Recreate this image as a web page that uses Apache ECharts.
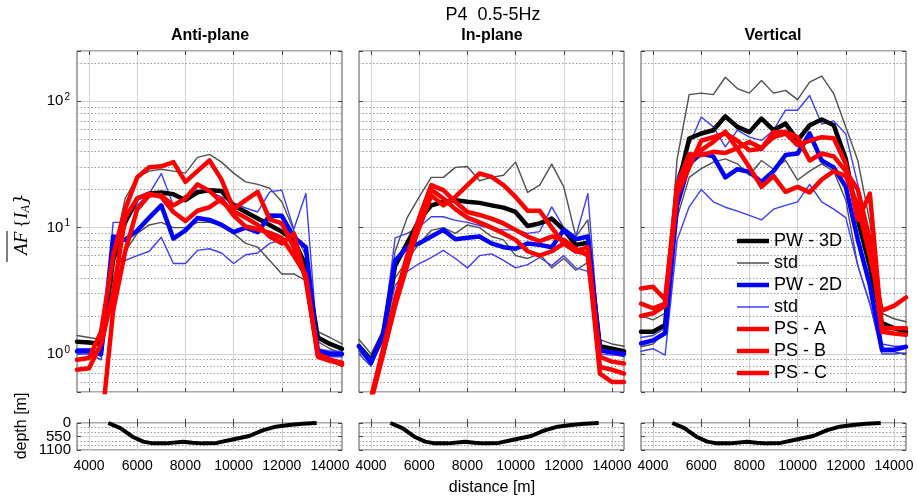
<!DOCTYPE html>
<html><head><meta charset="utf-8">
<script src="https://cdn.jsdelivr.net/npm/echarts@6/dist/echarts.min.js"></script>
<style>html,body{margin:0;padding:0;background:#fff}#c{width:917px;height:500px}</style>
</head><body><div id="c"></div>
<script>
// ---------- data ----------
const stations = [3500,4000,4500,5000,5500,6000,6500,7000,7500,8000,8500,9000,9500,10000,10500,11000,11500,12000,12500,13000,13500,14000,14500];

// Anti-plane
const ap3D   = [1.25,1.23,1.2,5.5,11,17,18.6,19,18.4,16.5,19,19.8,19.5,15,13.3,11.8,10.5,9.3,8,5,1.35,1.2,1.1];
const ap3Dhi = [1.4,1.35,1.3,6,17,25,28,29,28,27,36,38,33,27,23,22,20.5,16,9.5,6,1.5,1.35,1.2];
const ap3Dlo = [1.1,1.1,1.1,4,6.5,9,10.5,11,10,10,11,11,10.5,9,7.5,7,5.5,4.3,4.3,3.8,1.25,1.1,1.0];
const ap2D   = [1.05,1.05,1.0,8.5,8,9.5,12,15,8.2,9.5,11.9,11.5,10.5,9.2,10,9.2,12.5,12.4,8.4,7,1.05,1.0,1.0];
const ap2Dhi = [1.1,1.1,0.95,11,11,15,18.6,26.8,15,18,19.8,19.2,17.5,15.7,14.3,13.3,19.2,19.8,9.7,18.6,1.1,1.05,1.05];
const ap2Dlo = [1.0,1.0,0.9,3.5,5.5,6,6.5,8.4,5.2,5.2,6.6,6.8,6.3,5.2,6.1,6.3,7.5,8,6,4,0.98,0.95,0.95];
const apA    = [0.9,0.93,1.5,6,14,25,30,30.6,33,23,28,34,24,14,16.5,19.2,11.6,10.8,7,4,0.97,0.9,0.85];
const apB    = [0.75,0.77,1.2,3,12,17,18.6,17.5,13.3,11.3,13.6,14.5,16.8,12.5,10.2,9.7,9.1,8.3,6,4.2,0.95,0.88,0.85];
const apC    = [0.2,0.2,0.25,2.2,6.5,14,18,18,15,17,22,19.5,16,13.5,12,10.5,8.5,7.5,9,3.8,1.0,0.9,0.82];

// In-plane
const ip3D   = [1.15,0.9,1.4,5,7.5,11.5,15,16,16.5,16,15.7,15,14.4,13.3,10.3,10.8,11.8,9.6,7.3,7.6,1.15,1.1,1.05];
const ip3Dhi = [1.3,1.0,1.55,6.5,12,17.5,25,25,30,30.5,23.5,25,26,33,19,21.7,31.8,21,8.5,11.5,1.3,1.2,1.15];
const ip3Dlo = [1.05,0.85,1.25,4,5.5,7.5,9.5,10,9,10.5,10,8.5,8,6,5.7,6.2,4.8,5.7,4.6,5.3,1.05,1.0,0.95];
const ip2D   = [1.15,0.85,1.45,5.5,7,7.5,8.5,9.6,8.1,8.3,8.5,7.5,7.0,6.8,7.5,7.3,7.0,9.6,8.1,8.5,1.07,1.03,1.0];
const ip2Dhi = [1.2,0.9,1.5,8.3,9,10.1,12.2,12.2,11.4,11,10.4,9.8,9.6,9.6,9,9.3,14.6,10,8.5,18.6,1.1,1.07,1.03];
const ip2Dlo = [1.0,0.8,1.3,3.5,4.5,5.2,5.8,6.6,5.7,4.8,6.0,6.2,5.5,4.8,5.1,5.8,5.0,6.0,4.8,4.5,1.0,0.98,0.97];
const ipA    = [0.3,0.45,1.1,2.7,6,12,21.7,19.8,16,13.3,12.6,11.8,10.8,9.6,8.5,7.8,8.5,8,6.8,6,0.95,0.87,0.84];
const ipB    = [0.3,0.45,1.0,2.5,5.5,10,18,15,17.5,21.7,26.8,25.2,21.7,17.5,13.6,13.6,10,7.5,6.5,7,0.79,0.75,0.7];
const ipC    = [0.3,0.42,1.0,2.4,5,11,20,17,14,12,11,10,9,8,6.5,6,6.5,7.5,6.5,6.2,0.7,0.6,0.6];

// Vertical
const v3D    = [1.5,1.5,1.7,20,50.7,55.6,59,76,62.7,57,73,59,66.6,49,64.6,71.7,64.6,35,11.5,4.9,1.76,1.6,1.5];
const v3Dhi  = [2.0,1.86,2.1,35,113,116,113,155,126,116,146,116,122,103,142,158,115,62.7,34,11,2.1,1.9,1.8];
const v3Dlo  = [1.14,1.2,1.5,12,25,29.3,33,35,32,26,34,29,34,23.8,28,32,28,16.5,5,2.5,1.04,1.04,1.0];
const v2D    = [1.21,1.28,1.46,15,32,38.6,36.6,25,29,27.6,23,28,37.5,38.6,55.6,34,30,21,8,3.5,1.08,1.08,1.14];
const v2Dhi  = [1.35,1.4,1.6,25,45,75,62.7,43.5,59,52,49,59,85,85,111,66,70,55,22,8,1.2,1.15,1.15];
const v2Dlo  = [1.05,1.1,0.98,8,14.6,20,16,14.5,13.5,12.5,11.5,14,15,16,22,16,14,12,5,2.5,1.0,1.0,1.02];
const vA     = [3.3,3.4,2.7,20,34,41,47.7,57.5,42,30,21,25.6,19.2,21,19,24,28,25.6,15,6,2.2,2.4,2.8];
const vB     = [2.5,2.3,2.5,22,38,37.5,39.8,39,42.6,47.7,42.6,52,55.6,45,48.7,52,51,32,11.5,18.6,1.6,1.6,1.6];
const vC     = [2.0,2.1,2.4,18,30,48.7,52,55.6,48.7,41,42,57,57,52,34,38.6,36.6,28,20,8,1.5,1.45,1.42];

// Basin depth profile
const depthX = [4800,5300,5800,6250,6650,7200,7900,8300,8700,9300,9950,10650,11200,11750,12300,12850,13450];
const depthY = [0,210,560,760,830,830,760,800,830,810,670,530,300,150,80,30,0];

// Axis ticks
const xTickValues = [4000,6000,8000,10000,12000,14000];
const depthEndTicks = [0,1100];
const depthMidTicks = [550];
const minorTicks = [0.6,0.7,0.8,0.9,2,3,4,5,6,7,8,9,20,30,40,50,60,70,80,90,200];
const panelTitles = ['Anti-plane','In-plane','Vertical'];
const legendGroups = [['PW - 3D'],['std'],['PW - 2D'],['std '],['PS - A','PS - B','PS - C']];

// ---------- chart ----------
const FONT = '"Liberation Sans", Arial, Helvetica, sans-serif';
const lefts = [77, 359, 641];
const W = 265;
const panels = [
  {hi3:ap3Dhi, lo3:ap3Dlo, hi2:ap2Dhi, lo2:ap2Dlo, m3:ap3D, m2:ap2D, A:apA, B:apB, C:apC},
  {hi3:ip3Dhi, lo3:ip3Dlo, hi2:ip2Dhi, lo2:ip2Dlo, m3:ip3D, m2:ip2D, A:ipA, B:ipB, C:ipC},
  {hi3:v3Dhi,  lo3:v3Dlo,  hi2:v2Dhi,  lo2:v2Dlo,  m3:v3D,  m2:v2D,  A:vA,  B:vB,  C:vC}
];

const grids = [], xAxes = [], yAxes = [], series = [];
const TICK = {show:true, inside:true, length:4, lineStyle:{color:'#444', width:1}};
const SPLIT = {show:true, lineStyle:{color:'#d4d4d4', width:1}};
const DLABEL = {color:'#000', fontSize:15, fontFamily:FONT, margin:6, showMinLabel:true, showMaxLabel:true, formatter: v => String(v)};

for (let g = 0; g < 6; g++) {
  const top = g < 3;
  const l = lefts[g % 3];
  grids.push({left:l, top: top ? 51 : 423, width:W, height: top ? 341 : 27,
    show:true, borderColor:'#555', borderWidth:1, backgroundColor:'rgba(0,0,0,0)'});
  xAxes.push({type:'value', gridIndex:g, position:'bottom', min:3500, max:14500,
    axisLine:{show:false},
    axisTick:Object.assign({customValues:xTickValues}, TICK),
    axisLabel:{show:!top, customValues:xTickValues, color:'#000', fontSize:14, fontFamily:FONT, margin:9,
      formatter: v => String(v)},
    splitLine:SPLIT});
  xAxes.push({type:'value', gridIndex:g, position:'top', min:3500, max:14500,
    axisLine:{show:false},
    axisTick:Object.assign({customValues:xTickValues}, TICK),
    axisLabel:{show:false, customValues:xTickValues}, splitLine:{show:false}});
  if (top) {
    const fmt = v => {
      const e = Math.log10(v), r = Math.round(e);
      if (Math.abs(e - r) > 1e-6) return '';
      return '{b|10}{s|' + r + '}';
    };
    const yl = pos => ({type:'log', logBase:10, gridIndex:g, position:pos, min:0.5, max:250,
      axisLine:{show:false}, axisTick:TICK,
      axisLabel:{show: pos === 'left' && g === 0, formatter:fmt, margin:7,
        rich:{b:{fontSize:15, fontFamily:FONT, color:'#000'}, s:{fontSize:10, fontFamily:FONT, color:'#000', verticalAlign:'top', padding:[0,0,8,1]}}},
      splitLine: pos === 'left' ? SPLIT : {show:false}});
    yAxes.push(yl('left'), yl('right'));
  } else {
    const yd = pos => ({type:'value', gridIndex:g, position:pos, min:0, max:1100, interval:550, inverse:true,
      axisLine:{show:false}, axisTick:TICK,
      axisLabel:Object.assign({show: pos === 'left' && g === 3, customValues:depthEndTicks}, DLABEL),
      splitLine: pos === 'left' ? SPLIT : {show:false},
      minorTick:{show:false, splitNumber:3},
      minorSplitLine:{show: pos === 'left', lineStyle:{color:'#999', type:[1.5,2], width:1}}});
    yAxes.push(yd('left'), yd('right'));
  }
}
// extra label-only axis for the middle depth tick (kept separate so it is not hidden by overlap)
yAxes.push({type:'value', gridIndex:3, position:'left', offset:0, min:0, max:1100, interval:550, inverse:true,
  axisLine:{show:false}, axisTick:{show:false}, splitLine:{show:false},
  axisLabel:Object.assign({show:true, customValues:depthMidTicks}, DLABEL)});

const pairs = arr => stations.map((x, i) => [x, arr[i]]);
panels.forEach((p, k) => {
  const xi = 2 * k, yi = 2 * k;
  series.push({type:'line', name:'minor', xAxisIndex:xi, yAxisIndex:yi, data:[], silent:true, z:1,
    markLine:{silent:true, z:1, symbol:'none', animation:false, label:{show:false},
      lineStyle:{type:[1.5,2], color:'#9a9a9a', width:1},
      emphasis:{disabled:true},
      data:minorTicks.map(v => ({yAxis:v}))}});
  const add = (name, arr, color, width) => series.push({type:'line', name, xAxisIndex:xi, yAxisIndex:yi,
    data:pairs(arr), symbol:'none', showSymbol:false, clip:true, silent:true,
    lineStyle:{color, width, join:'round', cap:'round'}, itemStyle:{color}, emphasis:{disabled:true}});
  add('std', p.hi3, '#505050', 1.4);
  add('std', p.lo3, '#505050', 1.4);
  add('std ', p.hi2, '#3d3dff', 1.4);
  add('std ', p.lo2, '#3d3dff', 1.4);
  add('PW - 3D', p.m3, '#000000', 4.5);
  add('PW - 2D', p.m2, '#0000ff', 4.5);
  add('PS - A', p.A, '#ff0000', 4.5);
  add('PS - B', p.B, '#ff0000', 4.5);
  add('PS - C', p.C, '#ff0000', 4.5);
  series.push({type:'line', name:'depth', xAxisIndex:2 * (k + 3), yAxisIndex:2 * (k + 3),
    data:depthX.map((x, i) => [x, depthY[i]]), symbol:'none', silent:true,
    lineStyle:{color:'#000', width:4, join:'round'}, emphasis:{disabled:true}});
});

const textEl = (text, x, y, size, weight, extra) => Object.assign({type:'text', x, y, silent:true,
  style:{text, fill:'#000', font: (weight || 'normal') + ' ' + size + 'px ' + FONT, textAlign:'center', textVerticalAlign:'middle'}}, extra || {});

const graphics = [
  textEl('P4  0.5-5Hz', 493, 15, 18),
  textEl(panelTitles[0], 210, 36, 16, 'bold'),
  textEl(panelTitles[1], 492, 36, 16, 'bold'),
  textEl(panelTitles[2], 773, 36, 16, 'bold'),
  textEl('distance [m]', 492, 488, 16),
  textEl('depth [m]', 22, 426, 16, 'normal', {rotation: Math.PI / 2}),
  {type:'text', x:22, y:224, rotation: Math.PI / 2, silent:true,
    style:{text:'{n|AF}{p|\u2009{}{n|I}{s|A}}', fill:'#000',
      font:'italic 19px "DejaVu Serif", "Liberation Serif", serif',
      textAlign:'center', textVerticalAlign:'middle',
      rich:{n:{fontFamily:'"Liberation Serif", serif', fontStyle:'italic', fontSize:19, fill:'#000'},
            p:{fontFamily:'"Liberation Serif", serif', fontSize:19, fill:'#000'},
            s:{fontFamily:'"Liberation Serif", serif', fontStyle:'italic', fontSize:12, fill:'#000', verticalAlign:'bottom', padding:[8,0,0,0]}}}},
  {type:'line', silent:true, shape:{x1:7, y1:231, x2:7, y2:262}, style:{stroke:'#000', lineWidth:1}}
];

const rowTops = [231, 253, 275, 297, 319];
const thin = [false, true, false, true, false];
const legends = legendGroups.map((names, i) => ({
  orient:'vertical', left:737, top:rowTops[i], padding:0, itemWidth:32, itemHeight: thin[i] ? 1.5 : 4.5,
  itemGap:2, icon:'rect', selectedMode:false, data:names, z:10,
  textStyle:{fontSize:18, fontFamily:FONT, color:'#000', lineHeight:20}
}));

const chart = echarts.init(document.getElementById('c'), null, {renderer:'canvas'});
chart.setOption({
  animation:false,
  backgroundColor:'#fff',
  grid:grids, xAxis:xAxes, yAxis:yAxes, series,
  legend:legends,
  graphic:graphics
});
</script></body></html>
